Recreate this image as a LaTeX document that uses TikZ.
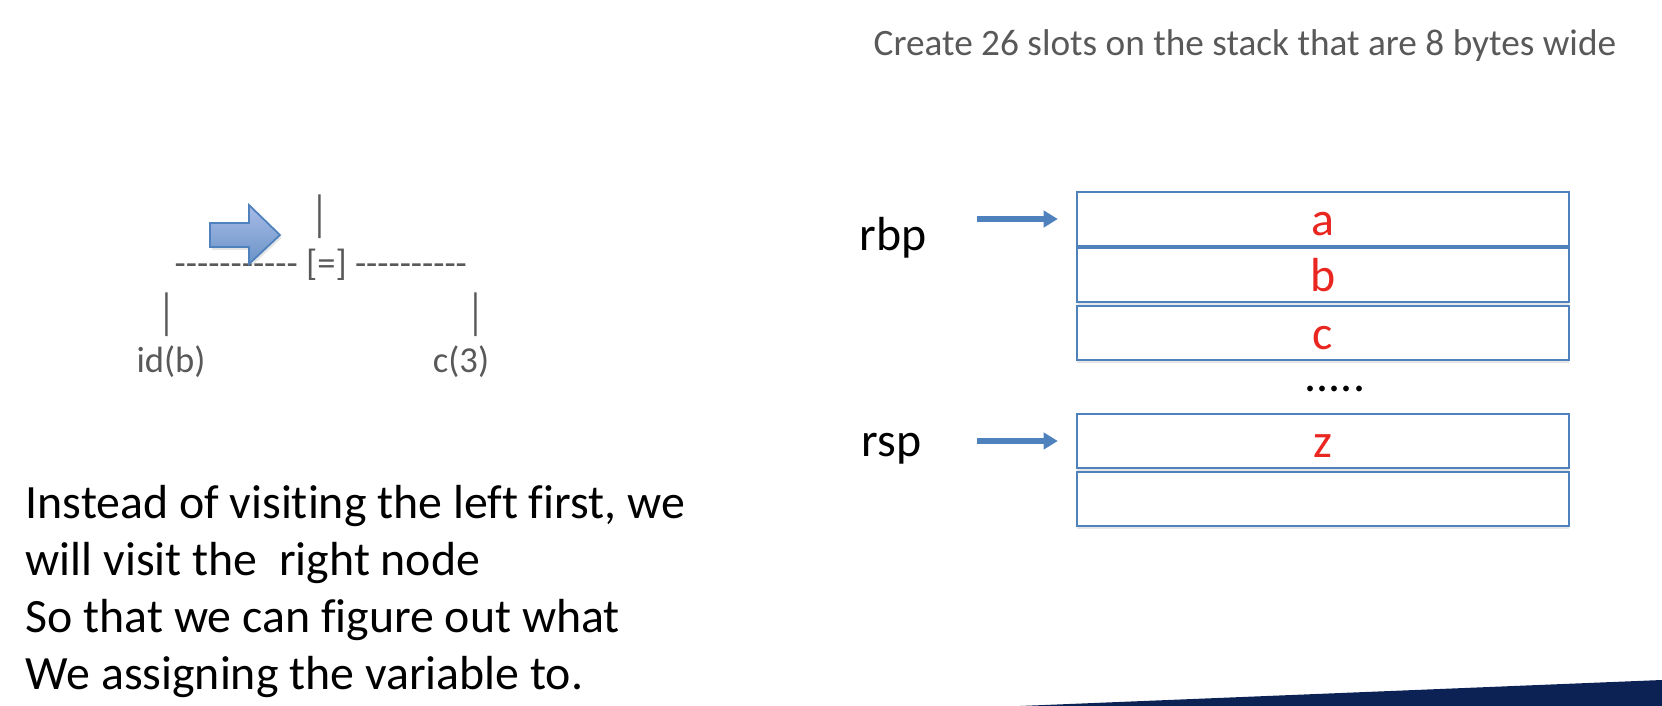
\documentclass[tikz,border=0pt]{standalone}
\usepackage{fontspec}
\setmainfont{Carlito}[Ligatures={TeX,NoCommon,NoContextual}]
\newfontfamily\treefont{Carlito}[Ligatures={TeXOff,NoCommon,NoContextual}]
\usetikzlibrary{positioning,arrows.meta,shadows}
\definecolor{slideblue}{RGB}{79,129,189}
\definecolor{slidegray}{RGB}{89,89,89}
\definecolor{slotred}{RGB}{233,38,31}
\definecolor{bandnavy}{RGB}{12,34,85}
\newcommand{\tallbar}{\scalebox{1}[1.35]{|}}
\tikzset{
	big/.style={font=\fontsize{13.6}{16.2}\selectfont,inner sep=0pt},
	small/.style={font=\treefont\fontsize{10.4}{12.5}\selectfont,text=slidegray,inner sep=0pt},
	slot/.style={rectangle,draw=slideblue,line width=0.6pt,fill=white,
		minimum width=4.92cm,minimum height=0.54cm,text height=9.1pt,text depth=0pt,
		text=slotred,big,drop shadow={shadow xshift=0pt,shadow yshift=-0.8pt,opacity=0.2}},
	pointer/.style={-{Triangle[length=4pt,width=4.6pt]},draw=slideblue,line width=1.5pt,
		shorten >=0.18cm}
}

\begin{document}
\begin{tikzpicture}[x=0.01cm,y=-0.01cm]
	\useasboundingbox (0,0) rectangle (1662,706);
	
	\node[small,font=\treefont\fontsize{10.6}{12.7}\selectfont,anchor=base west] (title) at (873,55) {Create 26 slots on the stack that are 8 bytes wide};
	
	% tree
	\node[small,anchor=base] (rootbar) at (320,230) {\tallbar};
	\node[small,anchor=base west] (assign) at (174,275) {----------- [=] ----------};
	\node[small,anchor=base] (leftbar) at (167,328) {\tallbar};
	\node[small,anchor=base] (rightbar) at (476,328) {\tallbar};
	\node[small,anchor=base] (leftleaf) at (171,373) {id(b)};
	\node[small,anchor=base] (rightleaf) at (461,373) {c(3)};
	\shade[top color=blue!20!slideblue!45,bottom color=slideblue!85,draw=slideblue,line width=0.5pt,
		drop shadow={shadow xshift=0.5pt,shadow yshift=-0.8pt,opacity=0.2}]
		(210,223) -- (249,223) -- (249,205) -- (280,235) -- (249,264) -- (249,247) -- (210,247) -- cycle;
	
	\node[big,anchor=base west,align=left] (note) at (25,689) {Instead of visiting the left first, we\\will visit the~ right node\\So that we can figure out what\\We assigning the variable to.};
	
	% stack
	\node[slot] (slota) at (1323,219) {a};
	\node[slot] (slotb) [below=0pt of slota] {b};
	\node[slot] (slotc) [below=0.02cm of slotb] {c};
	\node[big,anchor=base] (dots) at (1335,391) {.....};
	\node[slot] (slotz) at (1323,441) {z};
	\node[slot] (slotend) [below=0.02cm of slotz] {};
	
	\node[big,anchor=base west] (rbp) at (859,250) {rbp};
	\node[big,anchor=base west] (rsp) at (861,456) {rsp};
	\coordinate (rbptail) at (977,219);
	\coordinate (rsptail) at (977,441);
	\draw[pointer] (rbptail) -- (slota.west);
	\draw[pointer] (rsptail) -- (slotz.west);
	
	\fill[bandnavy] (1020,706) -- (1662,680) -- (1662,706) -- cycle;
	
\end{tikzpicture}
\end{document}
